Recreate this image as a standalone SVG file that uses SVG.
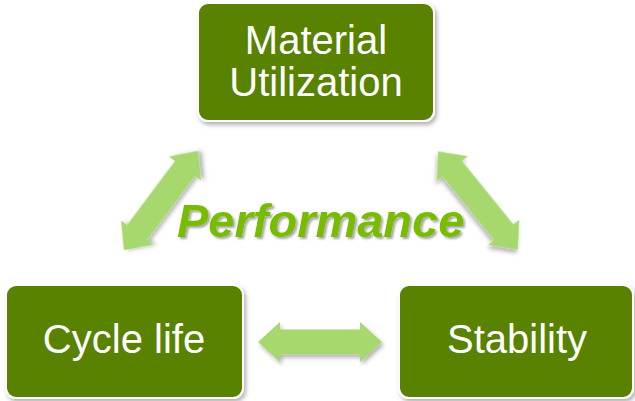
<svg xmlns="http://www.w3.org/2000/svg" width="635" height="401" viewBox="0 0 635 401">
  <defs>
    <filter id="shadow" x="-20%" y="-20%" width="140%" height="140%">
      <feDropShadow dx="2" dy="3" stdDeviation="2" flood-color="#000" flood-opacity="0.3"/>
    </filter>
    <filter id="textShadow" x="-10%" y="-20%" width="120%" height="140%">
      <feDropShadow dx="2" dy="2" stdDeviation="1.2" flood-color="#000" flood-opacity="0.35"/>
    </filter>
    <!-- double-headed block arrow, 124 long, centred on the origin -->
    <path id="dblArrow" d="M-62,0 L-40,-20 L-40,-12.5 L40,-12.5 L40,-20 L62,0 L40,20 L40,12.5 L-40,12.5 L-40,20 Z"/>
  </defs>
  <style>
    .box { fill: #588200; stroke: #ffffff; stroke-width: 2; filter: url(#shadow); }
    .label { font-family: "Liberation Sans", Arial, sans-serif; font-size: 40px; fill: #ffffff; text-anchor: middle; }
    .arrow { fill: #a6d86e; filter: url(#shadow); }
    .title { font-family: "Liberation Sans", Arial, sans-serif; font-size: 47px; font-weight: bold; font-style: italic; fill: #78bc00; filter: url(#textShadow); }
  </style>
  <rect width="635" height="401" fill="#ffffff"/>

  <g id="connectors">
    <use href="#dblArrow" class="arrow" transform="translate(161,200.5) rotate(-53.2)"/>
    <use href="#dblArrow" class="arrow" transform="translate(478,200.5) rotate(51) scale(1.02,1)"/>
    <use href="#dblArrow" class="arrow" transform="translate(320,342)"/>
  </g>

  <g id="material-utilization">
    <rect class="box" x="198" y="3" width="236" height="118" rx="10"/>
    <text class="label" x="316" y="54">Material</text>
    <text class="label" x="316" y="96">Utilization</text>
  </g>

  <g id="cycle-life">
    <rect class="box" x="6" y="285" width="237" height="113" rx="10"/>
    <text class="label" x="124" y="353">Cycle life</text>
  </g>

  <g id="stability">
    <rect class="box" x="399" y="285" width="234" height="113" rx="10"/>
    <text class="label" x="517" y="353">Stability</text>
  </g>

  <g id="performance">
    <text class="title" x="177" y="237">Performance</text>
  </g>
</svg>
